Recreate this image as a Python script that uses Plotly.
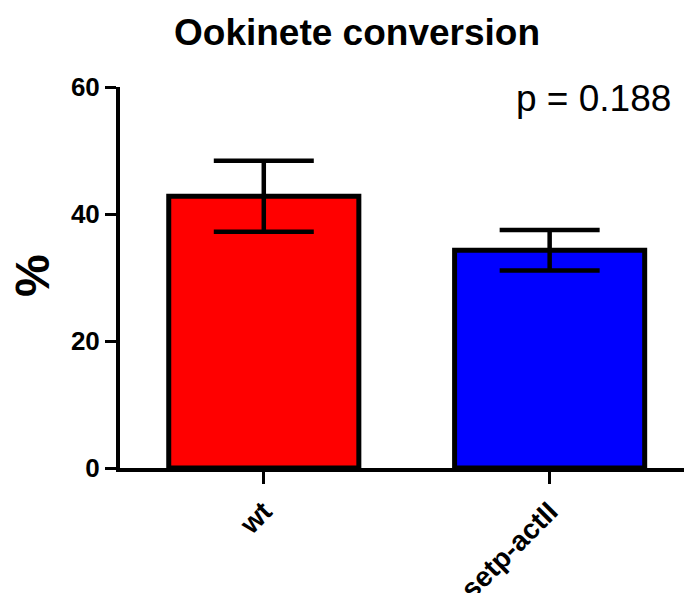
import plotly.graph_objects as go

categories = ["wt", "setp-actII"]
means = [42.8, 34.3]
errors = [5.6, 3.2]
colors = ["#ff0000", "#0000ff"]
title_text = "Ookinete conversion"
y_label = "%"
p_text = "p = 0.188"
y_ticks = [0, 20, 40, 60]

W, H = 684, 593
L, R, T, B = 120, 0, 87, 125

fig = go.Figure()
fig.add_trace(go.Bar(
    x=categories,
    y=means,
    width=0.665,
    marker=dict(color=colors, line=dict(color="black", width=5)),
    error_y=dict(type="data", array=errors, visible=True,
                 color="black", thickness=4.5, width=50),
))

fig.update_layout(
    width=W, height=H,
    margin=dict(l=L, r=R, t=T, b=B, autoexpand=False),
    paper_bgcolor="white", plot_bgcolor="white",
    showlegend=False,
    font=dict(family="Liberation Sans, Arial, sans-serif", color="black"),
    title=dict(text="<b>" + title_text + "</b>", x=(357 - L) / (W - L - R),
               xref="paper", xanchor="center", y=1 - 32 / H, yref="container",
               yanchor="middle", font=dict(size=37, color="black")),
    bargap=0.3,
)

fig.update_xaxes(
    range=[-0.503, 1.47],
    automargin=False,
    showline=True, linecolor="black", linewidth=4,
    ticks="outside", ticklen=12, tickwidth=3, tickcolor="black",
    tickangle=-45,
    tickfont=dict(size=28, family="Liberation Sans, Arial, sans-serif", color="black", weight="bold"),
    showgrid=False, zeroline=False, fixedrange=True,
)
fig.update_yaxes(
    range=[0, 60],
    automargin=False,
    tickvals=y_ticks,
    showline=True, linecolor="black", linewidth=4,
    ticks="outside", ticklen=11, tickwidth=3, tickcolor="black",
    tickfont=dict(size=26, family="Liberation Sans, Arial, sans-serif", color="black", weight="bold"),
    showgrid=False, zeroline=False, fixedrange=True,
)

fig.add_annotation(
    text="<b>" + y_label + "</b>", textangle=-90,
    xref="paper", yref="paper",
    x=(32 - L) / (W - L - R), y=(468 - 276) / (468 - T),
    xanchor="center", yanchor="middle", showarrow=False,
    font=dict(size=48, color="black"),
)
fig.add_annotation(
    text=p_text,
    xref="paper", yref="paper",
    x=(593 - L) / (W - L - R), y=(468 - 98) / (468 - T),
    xanchor="center", yanchor="middle", showarrow=False,
    font=dict(size=37, color="black"),
)

fig.write_html("out.html")
